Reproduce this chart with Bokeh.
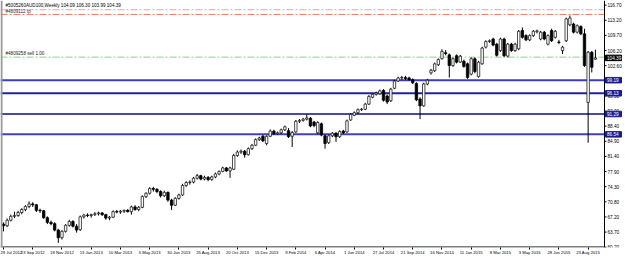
from bokeh.plotting import figure
from bokeh.models import Range1d, FixedTicker, Label, ColumnDataSource
from bokeh.core.properties import value
from bokeh.embed import file_html
from bokeh.resources import INLINE

# ---- weekly OHLC ----
opens = [65.6, 65.2, 66.5, 67.4, 67.6, 68.3, 69.0, 69.7, 70.3, 70.1,
         68.8, 68.7, 67.1, 66.0, 65.7, 64.2, 62.4, 63.9, 65.3, 66.2,
         65.1, 64.3, 67.3, 67.7, 67.6, 67.8, 68.0, 68.2, 67.8, 67.0,
         67.2, 68.5, 68.4, 68.6, 68.8, 68.5, 69.6, 69.0, 69.5, 72.0,
         72.8, 73.9, 73.7, 73.2, 72.2, 73.0, 71.2, 70.0, 71.6, 72.4,
         74.6, 75.3, 75.4, 76.3, 76.9, 76.1, 76.5, 76.0, 76.6, 77.3,
         77.9, 78.7, 78.0, 78.4, 81.6, 82.4, 82.6, 81.8, 83.2, 84.0,
         85.3, 86.1, 84.4, 86.1, 87.3, 86.7, 86.9, 87.6, 87.4, 86.1,
         87.1, 89.6, 89.8, 90.1, 90.3, 89.4, 86.9, 89.0, 86.2, 84.6,
         86.2, 86.8, 86.0, 87.3, 87.1, 89.9, 91.0, 91.6, 92.3, 92.4,
         93.6, 95.2, 95.9, 96.0, 96.8, 95.5, 94.4, 97.3, 99.0, 99.7,
         99.8, 99.7, 99.3, 98.4, 94.8, 93.2, 98.3, 100.9, 101.4, 102.8,
         104.2, 105.6, 105.1, 102.6, 104.9, 103.4, 103.6, 103.0, 100.6, 104.2,
         100.0, 103.0, 106.9, 108.2, 108.8, 107.6, 106.1, 108.8, 104.8, 107.6,
         106.1, 106.5, 110.8, 109.6, 108.6, 109.6, 110.5, 108.8, 110.4, 107.6,
         110.8, 109.2, 108.1, 106.1, 108.4, 112.1, 112.3, 110.4, 111.7, 110.0,
         94.0, 105.7, 104.09]
highs = [66.0, 66.9, 67.8, 68.5, 68.7, 69.3, 70.0, 70.9, 70.7, 70.3,
         69.2, 68.9, 67.4, 66.4, 66.0, 64.5, 64.2, 65.6, 66.6, 66.5,
         65.6, 67.6, 68.0, 68.1, 68.0, 68.4, 68.5, 68.4, 68.0, 67.5,
         68.8, 68.9, 68.9, 69.0, 69.1, 69.9, 70.0, 69.8, 72.3, 73.0,
         74.2, 74.3, 74.0, 73.5, 73.4, 73.2, 71.5, 71.9, 72.7, 75.0,
         75.6, 75.8, 76.6, 77.3, 77.1, 76.9, 76.8, 76.9, 77.6, 78.1,
         79.0, 78.9, 79.0, 82.0, 82.8, 83.0, 82.9, 83.5, 84.3, 85.6,
         86.0, 86.4, 86.3, 87.7, 87.6, 87.2, 87.9, 88.6, 88.0, 87.3,
         89.9, 90.1, 90.4, 91.2, 90.6, 89.7, 89.6, 89.3, 86.5, 86.5,
         87.1, 87.1, 87.5, 87.6, 90.0, 91.5, 91.9, 92.6, 92.7, 93.9,
         95.7, 96.1, 96.5, 97.0, 97.1, 95.8, 97.4, 99.3, 100.0, 100.2,
         100.2, 100.0, 99.6, 98.7, 95.2, 98.6, 99.5, 101.8, 103.3, 104.3,
         106.4, 106.2, 105.4, 104.5, 105.2, 105.1, 104.0, 103.3, 104.5, 104.5,
         103.7, 107.0, 108.5, 108.7, 109.1, 107.9, 109.1, 109.1, 107.9, 107.9,
         107.9, 110.9, 111.5, 109.9, 109.9, 110.9, 111.0, 110.7, 110.7, 109.9,
         111.2, 110.9, 108.6, 107.2, 113.8, 114.3, 112.6, 112.2, 112.0, 111.2,
         106.0, 106.0, 106.30]
lows = [63.9, 64.9, 66.2, 67.0, 67.3, 67.9, 68.6, 69.3, 69.6, 68.4,
        68.2, 66.8, 65.6, 65.3, 63.9, 61.2, 62.0, 63.6, 65.0, 64.8,
        63.6, 64.0, 66.9, 67.2, 67.1, 67.5, 67.6, 67.5, 66.6, 66.5,
        67.0, 68.1, 68.0, 68.2, 68.3, 67.8, 68.7, 68.6, 69.3, 71.7,
        72.5, 73.2, 72.8, 71.8, 71.9, 70.8, 68.9, 69.8, 71.3, 72.2,
        74.3, 74.8, 75.1, 76.0, 75.8, 75.8, 75.6, 75.7, 76.3, 77.0,
        77.7, 77.8, 76.4, 78.2, 81.3, 82.0, 81.1, 81.6, 82.9, 83.8,
        85.0, 84.8, 84.0, 85.9, 86.4, 86.4, 86.6, 87.3, 85.7, 83.6,
        86.9, 89.2, 89.5, 89.8, 88.2, 88.2, 86.6, 86.1, 83.2, 84.3,
        85.9, 84.8, 85.7, 86.6, 86.9, 89.7, 90.8, 91.3, 92.0, 92.2,
        93.4, 95.0, 95.6, 95.8, 94.2, 93.6, 94.1, 97.1, 98.8, 99.3,
        99.2, 99.1, 98.3, 94.3, 90.1, 93.0, 98.0, 100.5, 101.1, 102.5,
        104.0, 105.0, 99.8, 102.3, 103.1, 103.2, 102.1, 99.5, 100.3, 100.8,
        99.8, 102.8, 106.6, 107.9, 107.1, 104.7, 105.8, 104.6, 104.5, 105.8,
        105.8, 106.2, 108.9, 108.3, 108.3, 109.3, 110.1, 108.5, 108.5, 107.3,
        108.1, 108.9, 107.6, 105.3, 108.1, 111.8, 110.1, 110.1, 109.7, 102.3,
        84.6, 101.0, 103.99]
closes = [65.2, 66.5, 67.4, 67.6, 68.3, 69.0, 69.7, 70.3, 70.1, 68.8,
          68.7, 67.1, 66.0, 65.7, 64.2, 62.4, 63.9, 65.3, 66.2, 65.1,
          64.2, 67.3, 67.7, 67.6, 67.8, 68.0, 68.2, 67.8, 67.0, 67.2,
          68.5, 68.4, 68.6, 68.8, 68.5, 69.6, 69.0, 69.5, 72.0, 72.8,
          73.9, 73.7, 73.2, 72.2, 73.0, 71.2, 70.0, 71.6, 72.4, 74.6,
          75.3, 75.4, 76.3, 76.9, 76.1, 76.5, 76.0, 76.6, 77.3, 77.9,
          78.7, 78.0, 78.7, 81.6, 82.4, 82.6, 81.8, 83.2, 84.0, 85.3,
          85.7, 85.0, 86.1, 87.3, 86.7, 86.9, 87.6, 88.3, 86.0, 87.0,
          89.6, 89.8, 90.1, 90.4, 88.5, 88.6, 89.3, 86.4, 84.4, 86.2,
          86.8, 86.0, 87.2, 86.9, 89.7, 91.2, 91.6, 92.3, 92.4, 93.6,
          95.4, 95.9, 96.2, 96.7, 94.5, 94.1, 97.1, 99.0, 99.7, 99.8,
          99.6, 99.3, 98.6, 94.6, 93.2, 98.3, 99.2, 101.5, 103.0, 104.0,
          105.9, 105.4, 102.6, 104.2, 103.4, 104.8, 102.4, 99.8, 104.2, 101.2,
          103.4, 106.7, 108.2, 108.4, 107.4, 105.0, 108.8, 104.9, 107.6, 106.1,
          107.6, 110.6, 109.2, 108.6, 109.6, 110.6, 110.7, 110.4, 108.8, 109.6,
          108.4, 110.6, 108.0, 106.9, 113.5, 113.7, 110.4, 111.9, 110.0, 102.6,
          105.7, 102.2, 104.39]

# ---- axis ticks ----
x_tick_labels = ["29 Jul 2012", "23 Sep 2012", "18 Nov 2012", "13 Jan 2013", "10 Mar 2013",
                 "5 May 2013", "30 Jun 2013", "25 Aug 2013", "20 Oct 2013", "15 Dec 2013",
                 "9 Feb 2014", "6 Apr 2014", "1 Jun 2014", "27 Jul 2014", "21 Sep 2014",
                 "16 Nov 2014", "11 Jan 2015", "8 Mar 2015", "3 May 2015", "28 Jun 2015",
                 "23 Aug 2015"]
x_tick_weeks = [8 * k for k in range(len(x_tick_labels))]
y_tick_values = [60.2, 63.73, 67.26, 70.79, 74.33, 77.86, 81.39, 84.92, 88.45,
                 91.98, 95.51, 99.04, 102.58, 106.11, 109.64, 113.17, 116.7]
y_tick_labels = ["60.20", "63.70", "67.20", "70.80", "74.30", "77.90", "81.40", "84.90", "88.40",
                 "92.00", "95.50", "99.00", "102.60", "106.20", "109.70", "113.20", "116.70"]

# ---- levels / orders ----
level_values = [99.19, 96.13, 91.29, 86.54]
order_values = [115.63, 114.54, 104.57]
current_price = 104.39
header_text = "#5005260AUD100,Weekly  104.09 106.30 103.99 104.39"
order_texts = ["#4809112 tp", "#4809258 sell 1.00"]

# ---- styles ----
level_colors = ["#3c3cbe", "#2020a8", "#0c0c8c", "#4242b8"]
level_widths = [2, 2, 1.5, 2]
order_colors = ["#f4a488", "#f07a58", "#8fcf8f"]
FONT = "Liberation Sans"

W, H = 625, 257
PX_WEEK = 3.654          # horizontal pixels per weekly bar
FRAME_H = 248            # plot area height in pixels
FRAME_EDGE = 604         # pixel column of the chart's right border

n = len(opens)
idx = list(range(n))
bull = [i for i in idx if closes[i] >= opens[i]]
bear = [i for i in idx if closes[i] < opens[i]]

x_start = -3 / PX_WEEK
x_end = x_start + W / PX_WEEK
x_edge = x_start + FRAME_EDGE / PX_WEEK
y_start, y_end = 60.13, 117.79
ppu = FRAME_H / (y_end - y_start)

src_all = ColumnDataSource(dict(x=idx, high=highs, low=lows))
src_bull = ColumnDataSource(dict(x=bull, top=[closes[i] for i in bull], bottom=[opens[i] for i in bull]))
src_bear = ColumnDataSource(dict(x=bear, top=[opens[i] for i in bear], bottom=[closes[i] for i in bear]))

p = figure(width=W, height=H, x_range=Range1d(x_start, x_end), y_range=Range1d(y_start, y_end),
           output_backend="svg", toolbar_location=None,
           x_axis_location="below", y_axis_location=None,
           min_border_left=0, min_border_right=0, min_border_top=0, min_border_bottom=H - FRAME_H,
           background_fill_color="white", border_fill_color="white",
           outline_line_color=None)
p.grid.visible = False

# horizontal levels (stop at chart border)
for v, c, w in zip(level_values, level_colors, level_widths):
    p.segment(x0=[x_start], x1=[x_edge], y0=[v], y1=[v], line_color=c, line_width=w)
for v, c in zip(order_values, order_colors):
    p.segment(x0=[x_start], x1=[x_edge], y0=[v], y1=[v], line_color=c, line_width=1, line_dash="7 2 2 2")

# candles
p.segment(x0="x", y0="low", x1="x", y1="high", source=src_all, line_color="black", line_width=1)
p.vbar(x="x", width=0.66, top="top", bottom="bottom", source=src_bull,
       fill_color="white", line_color="#202020", line_width=0.8)
p.vbar(x="x", width=0.66, top="top", bottom="bottom", source=src_bear,
       fill_color="black", line_color="black", line_width=0.8)

# chart borders
p.segment(x0=[x_edge], x1=[x_edge], y0=[y_start], y1=[y_end], line_color="black", line_width=1)
p.segment(x0=[x_start], x1=[x_edge], y0=[y_start + 0.5 / ppu], y1=[y_start + 0.5 / ppu],
          line_color="black", line_width=1)
p.segment(x0=[x_start + 1 / PX_WEEK], x1=[x_start + 1 / PX_WEEK], y0=[y_start], y1=[y_end],
          line_color="#9a9a9a", line_width=2)

# price scale on the right (drawn inside the canvas)
tick_src = ColumnDataSource(dict(y=y_tick_values, text=y_tick_labels))
p.segment(x0=x_edge, x1=x_edge + 2 / PX_WEEK, y0="y", y1="y", source=tick_src, line_color="black")
p.text(x=x_edge, y="y", text="text", source=tick_src, x_offset=3,
       text_font=value(FONT), text_font_size=value("4.7px"), text_color="black",
       text_baseline="middle", text_align="left")

box_src = ColumnDataSource(dict(y=level_values + [current_price],
                                text=[f"{v:.2f}" for v in level_values] + [f"{current_price:.2f}"],
                                color=["#1c1c8c"] * len(level_values) + ["black"]))
p.rect(x=x_edge + 9 / PX_WEEK, y="y", width=16, height=5.5, width_units="screen", height_units="screen",
       source=box_src, fill_color="color", line_color="color")
p.text(x=x_edge, y="y", text="text", source=box_src, x_offset=2.5,
       text_font=value(FONT), text_font_size=value("4.7px"), text_color="white",
       text_baseline="middle", text_align="left")

# date axis
xax = p.xaxis[0]
xax.ticker = FixedTicker(ticks=x_tick_weeks)
xax.major_label_overrides = {w: s for w, s in zip(x_tick_weeks, x_tick_labels)}
xax.major_label_text_font = FONT
xax.major_label_text_font_size = "4.2px"
xax.major_label_text_color = "black"
xax.major_label_text_align = "left"
xax.major_tick_out = 2
xax.major_tick_in = 0
xax.minor_tick_out = 0
xax.minor_tick_in = 0
xax.axis_line_color = None
xax.major_label_standoff = 0

# texts at top-left
p.add_layout(Label(x=x_start, x_offset=5, y=y_end - 5.3 / ppu, text=header_text,
                   text_font=FONT, text_font_size="4.6px", text_color="black", text_baseline="middle"))
p.add_layout(Label(x=x_start, x_offset=5, y=y_end - 11.2 / ppu, text=order_texts[0],
                   text_font=FONT, text_font_size="4.6px", text_color="#333333", text_baseline="middle"))
p.add_layout(Label(x=x_start, x_offset=5, y=order_values[2] + 4.0 / ppu, text=order_texts[1],
                   text_font=FONT, text_font_size="4.6px", text_color="#222222", text_baseline="middle"))

open("out.html", "w").write(file_html(p, INLINE))
